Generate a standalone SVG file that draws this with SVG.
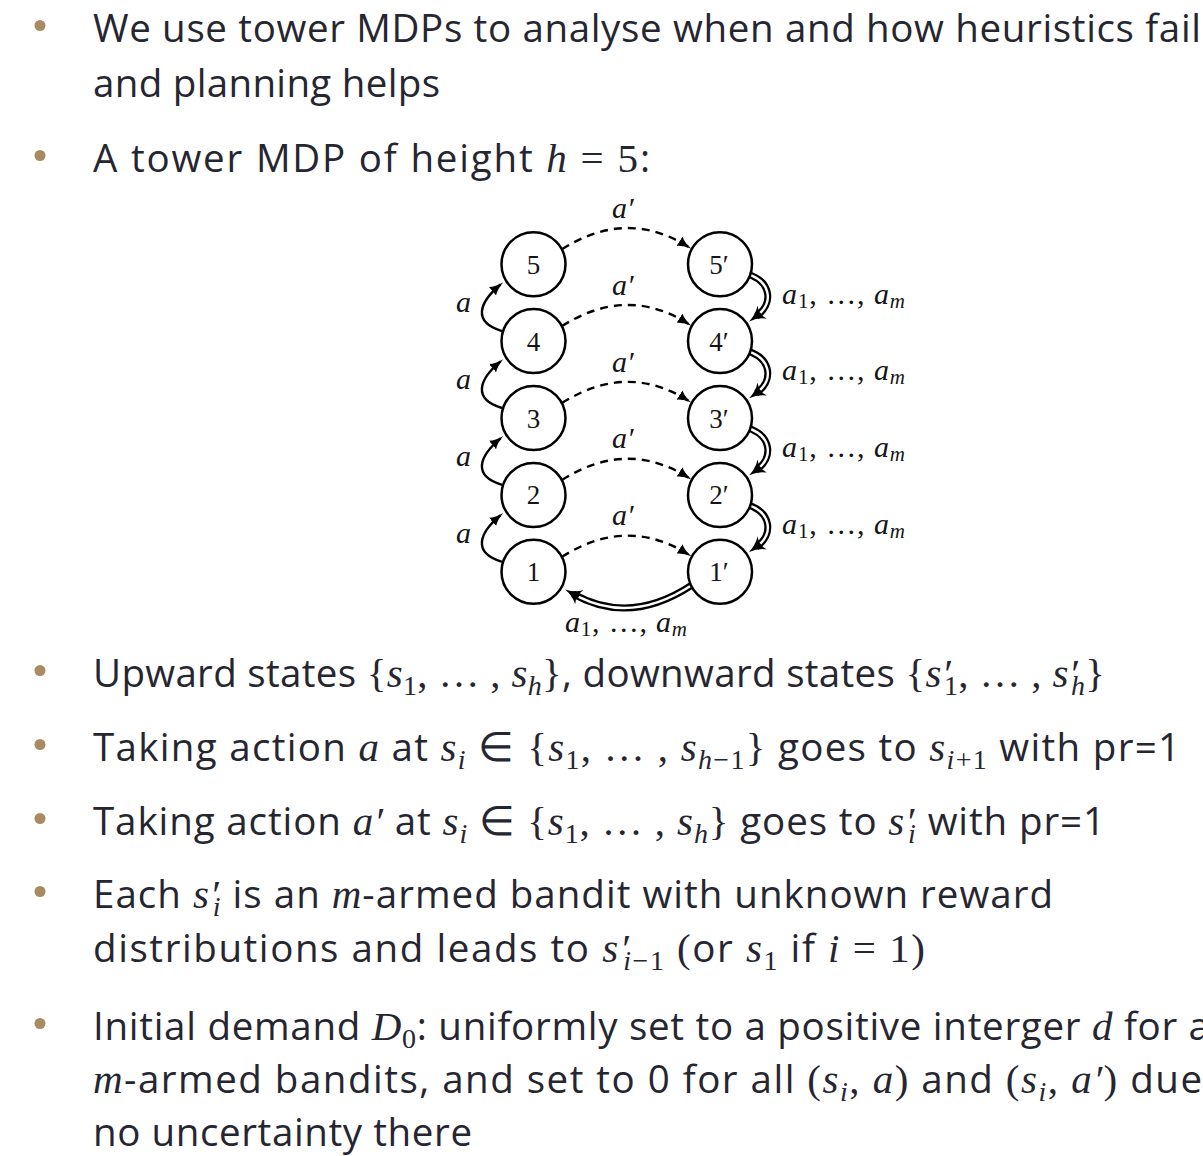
<svg xmlns="http://www.w3.org/2000/svg" width="1203" height="1156" viewBox="0 0 1203 1156">
<style>
.t{font-family:"Open Sans","Liberation Sans",sans-serif;font-size:38.5px;fill:#262630}
.m{font-family:"Liberation Serif",serif;font-style:italic;font-size:41px}
.r{font-family:"Liberation Serif",serif;font-size:41px}
.s{font-family:"Liberation Serif",serif;font-size:28px}
.si{font-family:"Liberation Serif",serif;font-style:italic;font-size:28px}
.b{fill:#A88B62}
.node circle{fill:#fff;stroke:#000;stroke-width:2.5}
.node text{font-family:"Liberation Serif",serif;font-size:27px;text-anchor:middle;fill:#151515}
.lbl{font-family:"Liberation Serif",serif;font-size:30px;fill:#151515}
.li{font-style:italic}
.dash{fill:none;stroke:#000;stroke-width:2.4;stroke-dasharray:8 6}
.up{fill:none;stroke:#000;stroke-width:2.4}
.dblo{fill:none;stroke:#000;stroke-width:7}
.dbli{fill:none;stroke:#fff;stroke-width:2.4}
</style>
<defs>
<marker id="ah" viewBox="0 0 14 11" markerWidth="14" markerHeight="11" refX="10.5" refY="5.5" orient="auto" markerUnits="userSpaceOnUse"><path d="M0,0 Q5,4 14,5.5 Q5,7 0,11 z" fill="#000"/></marker>
<marker id="dh" viewBox="0 0 16 16" markerWidth="16" markerHeight="16" refX="7" refY="8" orient="auto" markerUnits="userSpaceOnUse"><path d="M0,0 Q6,6 16,8 Q6,10 0,16 L3,8 z" fill="#000"/></marker>
</defs>

<g id="bullets">
<circle class="b" cx="40" cy="25.5" r="5.5"/>
<circle class="b" cx="40" cy="155.5" r="5.5"/>
<circle class="b" cx="40" cy="670.5" r="5.5"/>
<circle class="b" cx="40" cy="744.5" r="5.5"/>
<circle class="b" cx="40" cy="818.5" r="5.5"/>
<circle class="b" cx="40" cy="891.5" r="5.5"/>
<circle class="b" cx="40" cy="1023.5" r="5.5"/>
</g>

<g id="text">
<text class="t" x="93" y="42" textLength="1108" lengthAdjust="spacing">We use tower MDPs to analyse when and how heuristics fail</text>
<text class="t" x="93" y="97" textLength="347" lengthAdjust="spacing">and planning helps</text>
<text class="t" x="93" y="172" textLength="557" lengthAdjust="spacing">A tower MDP of height <tspan class="m">h</tspan><tspan class="r"> = 5</tspan>:</text>
<text class="t" x="93" y="687" textLength="1012" lengthAdjust="spacing">Upward states <tspan class="r">{</tspan><tspan class="m">s</tspan><tspan class="s" dy="8">1</tspan><tspan class="r" dy="-8">, … , </tspan><tspan class="m">s</tspan><tspan class="si" dy="8">h</tspan><tspan class="r" dy="-8">}</tspan>, downward states <tspan class="r">{</tspan><tspan class="m">s′</tspan><tspan class="s" dx="-7" dy="8">1</tspan><tspan class="r" dy="-8">, … , </tspan><tspan class="m">s′</tspan><tspan class="si" dx="-7" dy="8">h</tspan><tspan class="r" dy="-8">}</tspan></text>
<text class="t" x="93" y="761" textLength="1087" lengthAdjust="spacing">Taking action <tspan class="m">a</tspan> at <tspan class="m">s</tspan><tspan class="si" dy="8">i</tspan><tspan class="r" dy="-8"> ∈ {</tspan><tspan class="m">s</tspan><tspan class="s" dy="8">1</tspan><tspan class="r" dy="-8">, … , </tspan><tspan class="m">s</tspan><tspan class="si" dy="8">h</tspan><tspan class="s">−1</tspan><tspan class="r" dy="-8">}</tspan> goes to <tspan class="m">s</tspan><tspan class="si" dy="8">i</tspan><tspan class="s">+1</tspan><tspan dy="-8"> with pr=1</tspan></text>
<text class="t" x="93" y="835" textLength="1012" lengthAdjust="spacing">Taking action <tspan class="m">a′</tspan> at <tspan class="m">s</tspan><tspan class="si" dy="8">i</tspan><tspan class="r" dy="-8"> ∈ {</tspan><tspan class="m">s</tspan><tspan class="s" dy="8">1</tspan><tspan class="r" dy="-8">, … , </tspan><tspan class="m">s</tspan><tspan class="si" dy="8">h</tspan><tspan class="r" dy="-8">}</tspan> goes to <tspan class="m">s′</tspan><tspan class="si" dx="-7" dy="8">i</tspan><tspan dy="-8"> with pr=1</tspan></text>
<text class="t" x="93" y="908" textLength="960" lengthAdjust="spacing">Each <tspan class="m">s′</tspan><tspan class="si" dx="-7" dy="8">i</tspan><tspan dy="-8"> is an </tspan><tspan class="m">m</tspan>-armed bandit with unknown reward</text>
<text class="t" x="93" y="962" textLength="832" lengthAdjust="spacing">distributions and leads to <tspan class="m">s′</tspan><tspan class="si" dx="-7" dy="8">i</tspan><tspan class="s">−1</tspan><tspan dy="-8"> </tspan><tspan class="r">(</tspan>or <tspan class="m">s</tspan><tspan class="s" dy="8">1</tspan><tspan dy="-8"> if </tspan><tspan class="m">i</tspan><tspan class="r"> = 1)</tspan></text>
<text class="t" x="93" y="1040" textLength="1117" lengthAdjust="spacing">Initial demand <tspan class="m">D</tspan><tspan class="s" dy="8">0</tspan><tspan dy="-8">: uniformly set to a positive interger </tspan><tspan class="m">d</tspan> for a</text>
<text class="t" x="93" y="1093" textLength="1109" lengthAdjust="spacing"><tspan class="m">m</tspan>-armed bandits, and set to 0 for all <tspan class="r">(</tspan><tspan class="m">s</tspan><tspan class="si" dy="8">i</tspan><tspan class="r" dy="-8">, </tspan><tspan class="m">a</tspan><tspan class="r">)</tspan> and <tspan class="r">(</tspan><tspan class="m">s</tspan><tspan class="si" dy="8">i</tspan><tspan class="r" dy="-8">, </tspan><tspan class="m">a′</tspan><tspan class="r">)</tspan> due</text>
<text class="t" x="93" y="1146" textLength="379" lengthAdjust="spacing">no uncertainty there</text>
</g>

<g id="connectors">
<path class="dash" marker-end="url(#ah)" d="M562,249.2 Q627,208.1 688.4,246.9"/>
<path class="dash" marker-end="url(#ah)" d="M562,326.1 Q627,285 688.4,323.8"/>
<path class="dash" marker-end="url(#ah)" d="M562,403 Q627,361.9 688.4,400.7"/>
<path class="dash" marker-end="url(#ah)" d="M562,479.9 Q627,438.8 688.4,477.6"/>
<path class="dash" marker-end="url(#ah)" d="M562,556.8 Q627,515.7 688.4,554.5"/>
<path class="up" marker-end="url(#ah)" d="M502,331.1 C472,322 479,302.5 500.6,284.5"/>
<path class="up" marker-end="url(#ah)" d="M502,408 C472,398.9 479,379.4 500.6,361.4"/>
<path class="up" marker-end="url(#ah)" d="M502,484.9 C472,475.8 479,456.3 500.6,438.3"/>
<path class="up" marker-end="url(#ah)" d="M502,561.8 C472,552.7 479,533.2 500.6,515.2"/>
<path class="dblo" marker-end="url(#dh)" d="M748,274.2 C772,282.2 773.4,304.2 756.4,316.2"/>
<path class="dbli" pathLength="100" stroke-dasharray="91 100" d="M748,274.2 C772,282.2 773.4,304.2 756.4,316.2"/>
<path class="dblo" marker-end="url(#dh)" d="M748,351.1 C772,359.1 773.4,381.1 756.4,393.1"/>
<path class="dbli" pathLength="100" stroke-dasharray="91 100" d="M748,351.1 C772,359.1 773.4,381.1 756.4,393.1"/>
<path class="dblo" marker-end="url(#dh)" d="M748,428 C772,436 773.4,458 756.4,470"/>
<path class="dbli" pathLength="100" stroke-dasharray="91 100" d="M748,428 C772,436 773.4,458 756.4,470"/>
<path class="dblo" marker-end="url(#dh)" d="M748,504.9 C772,512.9 773.4,534.9 756.4,546.9"/>
<path class="dbli" pathLength="100" stroke-dasharray="91 100" d="M748,504.9 C772,512.9 773.4,534.9 756.4,546.9"/>
<path class="dblo" marker-end="url(#dh)" d="M692,585 Q630,626 573,593.9"/>
<path class="dbli" pathLength="100" stroke-dasharray="95 100" d="M692,585 Q630,626 573,593.9"/>
<text class="lbl li" x="612" y="217.7">a′</text>
<text class="lbl li" x="612" y="294.6">a′</text>
<text class="lbl li" x="612" y="371.5">a′</text>
<text class="lbl li" x="612" y="448.4">a′</text>
<text class="lbl li" x="612" y="525.3">a′</text>
<text class="lbl li" x="456" y="312">a</text>
<text class="lbl li" x="456" y="388.9">a</text>
<text class="lbl li" x="456" y="465.8">a</text>
<text class="lbl li" x="456" y="542.7">a</text>
<text class="lbl" x="782" y="303.5" textLength="123" lengthAdjust="spacing"><tspan class="li">a</tspan><tspan font-size="21" dy="4">1</tspan><tspan dy="-4">, …, </tspan><tspan class="li">a</tspan><tspan class="li" font-size="21" dy="4">m</tspan></text>
<text class="lbl" x="782" y="380.4" textLength="123" lengthAdjust="spacing"><tspan class="li">a</tspan><tspan font-size="21" dy="4">1</tspan><tspan dy="-4">, …, </tspan><tspan class="li">a</tspan><tspan class="li" font-size="21" dy="4">m</tspan></text>
<text class="lbl" x="782" y="457.3" textLength="123" lengthAdjust="spacing"><tspan class="li">a</tspan><tspan font-size="21" dy="4">1</tspan><tspan dy="-4">, …, </tspan><tspan class="li">a</tspan><tspan class="li" font-size="21" dy="4">m</tspan></text>
<text class="lbl" x="782" y="534.2" textLength="123" lengthAdjust="spacing"><tspan class="li">a</tspan><tspan font-size="21" dy="4">1</tspan><tspan dy="-4">, …, </tspan><tspan class="li">a</tspan><tspan class="li" font-size="21" dy="4">m</tspan></text>
<text class="lbl" x="565" y="632" textLength="122" lengthAdjust="spacing"><tspan class="li">a</tspan><tspan font-size="21" dy="4">1</tspan><tspan dy="-4">, …, </tspan><tspan class="li">a</tspan><tspan class="li" font-size="21" dy="4">m</tspan></text>
</g>

<g id="node-s5" class="node"><circle cx="533.5" cy="264.2" r="32"/><text x="533.5" y="273.7">5</text></g>
<g id="node-s4" class="node"><circle cx="533.5" cy="341.1" r="32"/><text x="533.5" y="350.6">4</text></g>
<g id="node-s3" class="node"><circle cx="533.5" cy="418" r="32"/><text x="533.5" y="427.5">3</text></g>
<g id="node-s2" class="node"><circle cx="533.5" cy="494.9" r="32"/><text x="533.5" y="504.4">2</text></g>
<g id="node-s1" class="node"><circle cx="533.5" cy="571.8" r="32"/><text x="533.5" y="581.3">1</text></g>
<g id="node-d5" class="node"><circle cx="720" cy="264.2" r="32"/><text x="719" y="273.7">5′</text></g>
<g id="node-d4" class="node"><circle cx="720" cy="341.1" r="32"/><text x="719" y="350.6">4′</text></g>
<g id="node-d3" class="node"><circle cx="720" cy="418" r="32"/><text x="719" y="427.5">3′</text></g>
<g id="node-d2" class="node"><circle cx="720" cy="494.9" r="32"/><text x="719" y="504.4">2′</text></g>
<g id="node-d1" class="node"><circle cx="720" cy="571.8" r="32"/><text x="719" y="581.3">1′</text></g>
</svg>
